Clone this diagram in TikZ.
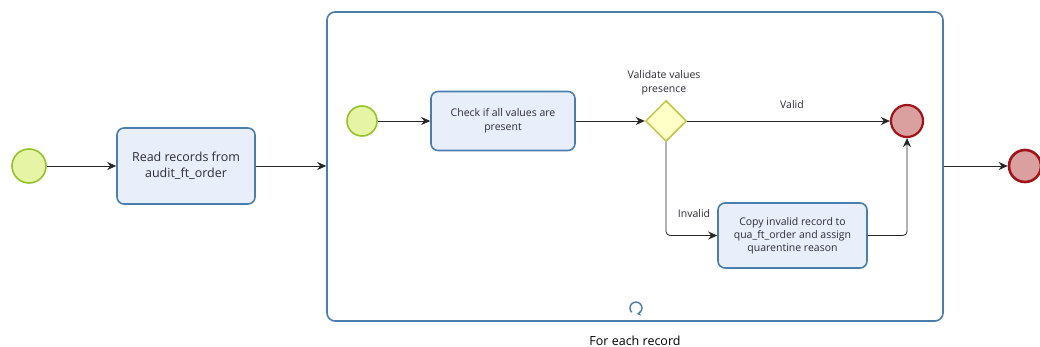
\documentclass[tikz,border=0pt]{standalone}
\usepackage{fontspec}
\setmainfont{Open Sans}
\usetikzlibrary{arrows.meta,shapes.geometric,positioning}
\definecolor{startfill}{RGB}{230,245,165}
\definecolor{startline}{RGB}{150,195,45}
\definecolor{endfill}{RGB}{218,160,160}
\definecolor{endline}{RGB}{160,20,25}
\definecolor{taskfill}{RGB}{232,238,250}
\definecolor{taskline}{RGB}{75,125,175}
\definecolor{gatefill}{RGB}{255,255,200}
\definecolor{gateline}{RGB}{195,195,70}
\definecolor{txt}{RGB}{45,45,55}
\tikzset{
  startev/.style={circle,draw=startline,fill=startfill,line width=1.6pt,minimum size=#1,inner sep=0pt},
  endev/.style={circle,draw=endline,fill=endfill,line width=2.6pt,minimum size=#1,inner sep=0pt},
  task/.style={draw=taskline,fill=taskfill,line width=1.6pt,rounded corners=7pt,inner sep=0pt,
    text=txt,align=center},
  gate/.style={diamond,draw=gateline,fill=gatefill,line width=1.5pt,minimum size=41pt,inner sep=0pt,aspect=1},
  flow/.style={draw=black!85,line width=0.8pt,-{Stealth[length=9pt,width=8pt]},rounded corners=4pt},
  lbl/.style={text=txt,font=\fontsize{10.5}{14}\selectfont,align=center}
}
\begin{document}
\begin{tikzpicture}[x=1pt,y=-1pt]
\useasboundingbox[fill=white] (0,0) rectangle (1040,347);
% outer pool of the loop
\node[draw=taskline,line width=1.6pt,rounded corners=8pt,minimum width=616pt,minimum height=309pt,inner sep=0pt]
  (sub) at (635,166.5) {};
% top level flow
\node[startev=34pt] (s0) at (29,166) {};
\node[task,minimum width=138pt,minimum height=76pt,font=\fontsize{12.5}{16}\selectfont] (read) at (186,166)
  {Read records from\\audit\_ft\_order};
\node[endev=32pt] (e0) at (1025,166) {};
\draw[flow] (s0) -- (read);
\draw[flow] (read) -- (read -| sub.west);
\draw[flow] (sub.east |- e0) -- (e0);
% inner flow
\node[startev=30pt] (s1) at (362,121) {};
\node[task,minimum width=144pt,minimum height=59pt,font=\fontsize{10.5}{14}\selectfont] (check) at (503,121)
  {Check if all values are\\present};
\node[gate] (gw) at (666,121) {};
\node[lbl] (gwl) at (664,83) {Validate values\\presence};
\node[endev=32pt,line width=2.2pt] (e1) at (907,121) {};
\node[task,minimum width=149pt,minimum height=65pt,font=\fontsize{10.5}{13}\selectfont] (copy) at (792.5,235.5)
  {Copy invalid record to\\qua\_ft\_order and assign\\quarentine reason};
\draw[flow] (s1) -- (check);
\draw[flow] (check) -- (gw);
\draw[flow] (gw) -- (e1);
\node[lbl] (vl) at (792,105) {Valid};
\draw[flow] (gw.south) |- (copy);
\node[lbl] (il) at (694,214) {Invalid};
\draw[flow] (copy) -| (e1);
% loop marker
\coordinate (lm) at (636,308);
\draw[draw=taskline,line width=1.4pt,-{Stealth[length=4pt,width=5pt]}] ([shift={(-4.3,4.3)}]lm) arc[start angle=225,end angle=-80,radius=6pt];
\node[lbl,font=\fontsize{12.5}{15}\selectfont,text=black] (fe) at (635,341) {For each record};
\end{tikzpicture}
\end{document}
